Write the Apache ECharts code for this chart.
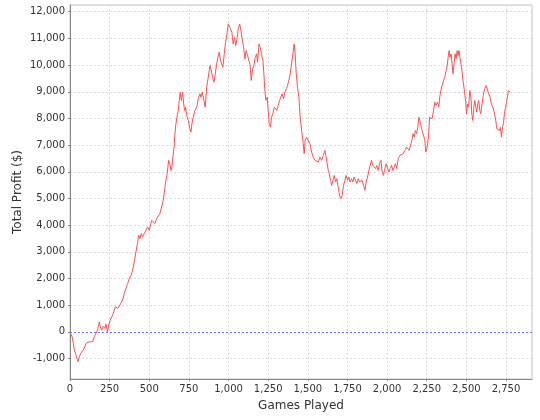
<!DOCTYPE html>
<html>
<head>
<meta charset="utf-8">
<script src="https://cdn.jsdelivr.net/npm/echarts@6/dist/echarts.min.js"></script>
<style>html,body{margin:0;padding:0;background:#fff}#c{width:540px;height:420px}</style>
</head>
<body>
<div id="c"></div>
<script>
const games = [0,13,21,27,38,44,50,52,59,67,76,90,101,111,122,132,143,153,164,174,185,191,200,210,221,227,237,244,254,263,269,279,286,294,303,311,323,332,342,353,364,374,385,395,405,416,427,433,441,449,458,468,479,490,500,
515,536,546,567,578,588,599,605,613,622,630,637,643,649,656,662,668,676,683,689,695,702,710,717,723,729,736,746,756,763,769,777,788,799,809,819,826,834,845,853,862,872,878,884,893,899,908,916,925,933,941,948,956,964,973,981,990,998,1004,1013,1021,1029,1038,
1045,1055,1061,1070,1078,1086,1095,1103,1111,1120,1128,1135,1143,1152,1160,1168,1177,1183,1192,1200,1208,1217,1223,1229,1236,1244,1250,1256,1265,1271,1280,1288,1297,1305,1313,1322,1330,1338,1347,1355,1364,1372,1380,1389,1397,1406,1414,1420,1427,1435,1444,
1450,1461,1471,1477,1483,1492,1502,1513,1524,1534,1545,1556,1566,1576,1587,1598,1608,1614,1622,1629,1635,1644,1650,1658,1667,1675,1683,1692,1700,1708,1717,1725,1734,1742,1750,1759,1767,1776,1784,1792,1801,1809,1818,1826,1835,1843,1851,1860,1868,1877,1885,1893,1902,1910,1918,1927,1935,1944,1952,1961,1969,1977,1986,1994,2003,2011,2019,2028,2036,2044,2053,2061,
2070,2080,2091,2101,2112,2123,2133,2139,2148,2156,2164,2171,2179,2186,2194,2200,2206,2213,2221,2227,2238,2244,2253,2261,2268,2276,2284,2293,2301,2309,2318,2326,2332,2339,2347,2356,2364,2372,2379,2385,2391,2397,2404,2410,2416,2422,2429,2435,2442,2448,2454,
2459,2470,2479,2490,2496,2501,2507,2514,2522,2529,2534,2541,2547,2553,2560,2566,2572,2578,2585,2591,2599,2608,2616,2625,2633,2641,2650,2658,2667,2675,2684,2692,2700,2709,2715,2721,2728,2734,2740,2747,2753,2759,2765,2772,2776];
const profit = [0,-187,-435,-685,-872,-996,-1120,-1130,-935,-810,-750,-623,-435,-500,-375,-310,-375,-187,-60,63,374,187,63,213,127,288,0,250,437,374,625,689,936,999,876,962,936,1187,1437,1624,1811,1999,2122,2309,2620,2994,3369,3619,3496,3683,3556,3683,3743,3930,3806,
4181,4057,4244,4432,4679,4929,5427,5678,5928,6427,6303,6052,6176,6550,6925,7426,7800,8111,8298,8672,8983,8672,8983,8549,8298,8422,8111,7925,7613,7486,7800,8047,8298,8422,8735,8923,8796,8983,8672,8422,9171,9545,9795,9983,9732,9545,9358,9671,10046,10293,10480,10233,10046,9920,10420,10855,11169,11543,11603,11356,11229,10795,11042,
10732,11042,11356,11543,11292,10982,10667,10233,10544,10357,10170,10046,9420,9858,9982,10293,10420,10106,10795,10667,10420,10170,9671,9046,8672,8796,8298,7800,7673,8047,8174,8422,8486,8298,8486,8672,8610,8923,8735,8983,9110,9234,9421,9671,10046,10420,10795,10420,9671,9171,8796,
8174,7550,7052,6677,7175,7299,7362,7052,6739,6550,6427,6490,6363,6550,6427,6614,6801,6614,6303,6052,5928,5678,5491,5678,5865,5615,5741,5427,5117,4993,5117,5491,5678,5865,5678,5803,5615,5741,5615,5803,5678,5554,5741,5615,5554,5678,5491,5304,5615,5803,6052,6239,6427,6239,6303,6116,6239,6052,6303,6427,5990,5865,6116,6303,6239,5990,6116,6239,6052,6176,6303,6116,
6490,6614,6550,6677,6801,6925,6988,6801,6988,7175,7426,7299,7550,7426,7673,8047,7925,7736,7550,7426,7175,6739,6925,7299,8047,8111,7986,8298,8610,8486,8610,8422,8796,9046,9234,9421,9545,9795,9983,10293,10544,10293,10420,10046,9671,10046,10420,10233,10544,10357,10544,
10293,9920,9421,8923,8610,8174,8549,8422,9046,8796,8174,7925,8422,8672,8422,8236,8549,8672,8298,8174,8549,8923,9110,9234,9171,8923,8796,8549,8422,8236,7986,7613,7673,7550,7673,7299,7673,7800,8174,8422,8610,8796,9046,9110,8983];

const xAxisName = 'Games Played';
const yAxisName = 'Total Profit ($)';
const xMin = 0, xMax = 2914, xStep = 250;
const yMin = -1770, yMax = 12253;

const fmt = v => Math.round(v).toLocaleString('en-US');
const font = 'DejaVu Sans';
const chart = echarts.init(document.getElementById('c'), null, {renderer: 'canvas'});
chart.setOption({
  animation: false,
  backgroundColor: '#ffffff',
  grid: {left: 70, top: 5, right: 8, bottom: 41, show: true, borderColor: '#c4c4c4', borderWidth: 1, backgroundColor: '#ffffff'},
  xAxis: {
    type: 'value', min: xMin, max: xMax, interval: xStep,
    name: xAxisName, nameLocation: 'middle', nameGap: 21, nameMoveOverlap: false,
    nameTextStyle: {fontFamily: font, fontSize: 12, color: '#333'},
    axisLine: {show: true, onZero: false, lineStyle: {color: '#888', width: 1}},
    axisTick: {show: true, length: 2, lineStyle: {color: '#888'}},
    axisLabel: {fontFamily: font, fontSize: 10, color: '#333', margin: 5, formatter: fmt, showMaxLabel: false},
    splitLine: {show: true, lineStyle: {color: '#dadada', type: [2, 2], width: 1}}
  },
  yAxis: {
    type: 'value', min: yMin, max: yMax, splitNumber: 14,
    name: yAxisName, nameLocation: 'middle', nameGap: 46, nameMoveOverlap: false,
    nameTextStyle: {fontFamily: font, fontSize: 12, color: '#333'},
    axisLine: {show: true, onZero: false, lineStyle: {color: '#888', width: 1}},
    axisTick: {show: true, length: 2, lineStyle: {color: '#888'}},
    axisLabel: {fontFamily: font, fontSize: 10, color: '#333', margin: 5, formatter: fmt, showMinLabel: false, showMaxLabel: false},
    splitLine: {show: true, lineStyle: {color: '#dadada', type: [2, 2], width: 1}}
  },
  series: [{
    type: 'line',
    data: games.map((g, i) => [g, profit[i]]),
    showSymbol: false,
    symbol: 'none',
    lineStyle: {color: '#ff5050', width: 1},
    markLine: {
      silent: true, symbol: 'none', label: {show: false},
      lineStyle: {color: '#7070ff', type: [2, 2], width: 1},
      data: [{yAxis: 0}]
    }
  }]
});
</script>
</body>
</html>
